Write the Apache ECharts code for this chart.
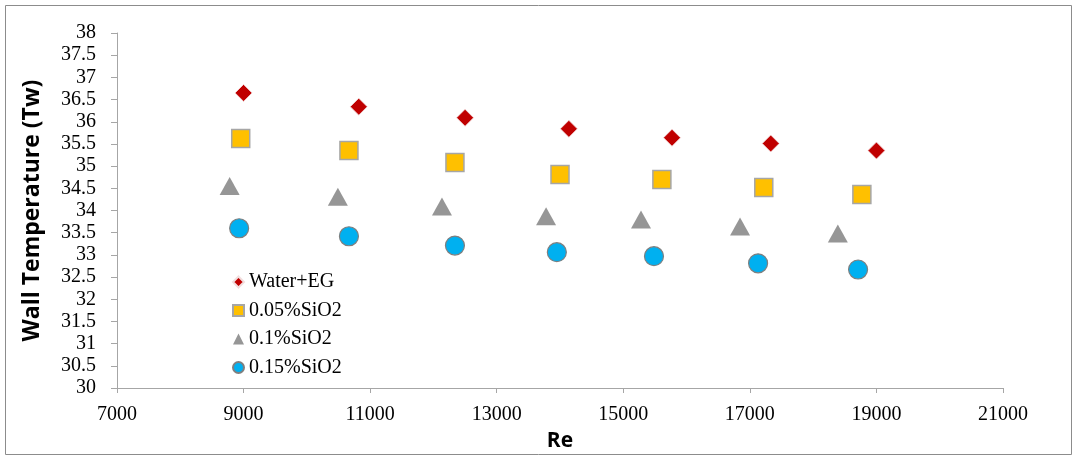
<!DOCTYPE html>
<html>
<head>
<meta charset="utf-8">
<script src="https://cdn.jsdelivr.net/npm/echarts@6/dist/echarts.min.js"></script>
<style>
html,body{margin:0;padding:0;background:#fff;}
#chart{width:1076px;height:459px;}
</style>
</head>
<body>
<div id="chart"></div>
<script>
var seriesNames = ['Water+EG', '0.05%SiO2', '0.1%SiO2', '0.15%SiO2'];
var reWater = [9000, 10820, 12500, 14140, 15770, 17330, 19000];
var twWater = [36.65, 36.34, 36.09, 35.84, 35.64, 35.51, 35.35];
var reSi005 = [8955, 10665, 12340, 14000, 15610, 17220, 18770];
var twSi005 = [35.62, 35.35, 35.08, 34.81, 34.70, 34.52, 34.36];
var reSi01 = [8780, 10490, 12135, 13780, 15280, 16845, 18390];
var twSi01 = [34.55, 34.31, 34.09, 33.87, 33.80, 33.64, 33.48];
var reSi015 = [8930, 10665, 12340, 13950, 15485, 17130, 18710];
var twSi015 = [33.60, 33.42, 33.21, 33.06, 32.97, 32.81, 32.67];

function pairs(xs, ys){ return xs.map(function(x,i){ return [x, ys[i]]; }); }

var chart = echarts.init(document.getElementById('chart'), null, {renderer:'canvas'});
var serif = '"Liberation Serif", "Times New Roman", serif';
var sans = '"Open Sans", "Liberation Sans", Arial, sans-serif';
chart.setOption({
  animation: false,
  backgroundColor: '#fff',
  graphic: [{
    type: 'rect', shape: {x: 5.5, y: 5.5, width: 1066, height: 449},
    style: {fill: 'none', stroke: '#8c8c8c', lineWidth: 1}, silent: true
  }],
  grid: {left: 117, top: 33, width: 886, height: 355, containLabel: false},
  xAxis: {
    type: 'value', min: 7000, max: 21000, interval: 2000,
    name: 'Re', nameLocation: 'middle', nameGap: 43,
    nameTextStyle: {fontFamily: sans, fontWeight: 'bold', fontSize: 21, color: '#000'},
    axisLine: {show: true, lineStyle: {color: '#a6a6a6', width: 1}},
    axisTick: {show: true, length: 5, lineStyle: {color: '#a6a6a6'}},
    axisLabel: {fontFamily: serif, fontSize: 20, color: '#000', margin: 17,
      formatter: function(v){ return String(v); }},
    splitLine: {show: false}
  },
  yAxis: {
    type: 'value', min: 30, max: 38, interval: 0.5,
    name: 'Wall Temperature (Tw)', nameLocation: 'middle', nameGap: 73, nameRotate: 90,
    nameTextStyle: {fontFamily: sans, fontWeight: 'bold', fontSize: 23, color: '#000'},
    axisLine: {show: true, lineStyle: {color: '#a6a6a6', width: 1}},
    axisTick: {show: true, length: 6, lineStyle: {color: '#a6a6a6'}},
    axisLabel: {fontFamily: serif, fontSize: 20, color: '#000', margin: 21},
    splitLine: {show: false}
  },
  legend: {
    orient: 'vertical', left: 227, top: 267, itemGap: 8.5,
    itemWidth: 11, itemHeight: 11,
    textStyle: {fontFamily: serif, fontSize: 20, color: '#000'},
    data: [
      {name: seriesNames[0], icon: 'diamond'},
      {name: seriesNames[1], icon: 'rect'},
      {name: seriesNames[2], icon: 'triangle'},
      {name: seriesNames[3], icon: 'circle'}
    ]
  },
  series: [
    {name: seriesNames[0], type: 'scatter', symbol: 'diamond', symbolSize: 17,
     itemStyle: {color: '#C00000', borderColor: '#f2dede', borderWidth: 0.8, opacity: 1},
     data: pairs(reWater, twWater)},
    {name: seriesNames[1], type: 'scatter', symbol: 'rect', symbolSize: 18,
     itemStyle: {color: '#FFC000', borderColor: '#a6a6a6', borderWidth: 1.5, opacity: 1},
     data: pairs(reSi005, twSi005)},
    {name: seriesNames[2], type: 'scatter', symbol: 'triangle', symbolSize: [20, 18],
     itemStyle: {color: '#969696', opacity: 1},
     data: pairs(reSi01, twSi01)},
    {name: seriesNames[3], type: 'scatter', symbol: 'circle', symbolSize: 19,
     itemStyle: {color: '#00B0F0', borderColor: '#7f7f7f', borderWidth: 1.2, opacity: 1},
     data: pairs(reSi015, twSi015)}
  ]
});
</script>
</body>
</html>
